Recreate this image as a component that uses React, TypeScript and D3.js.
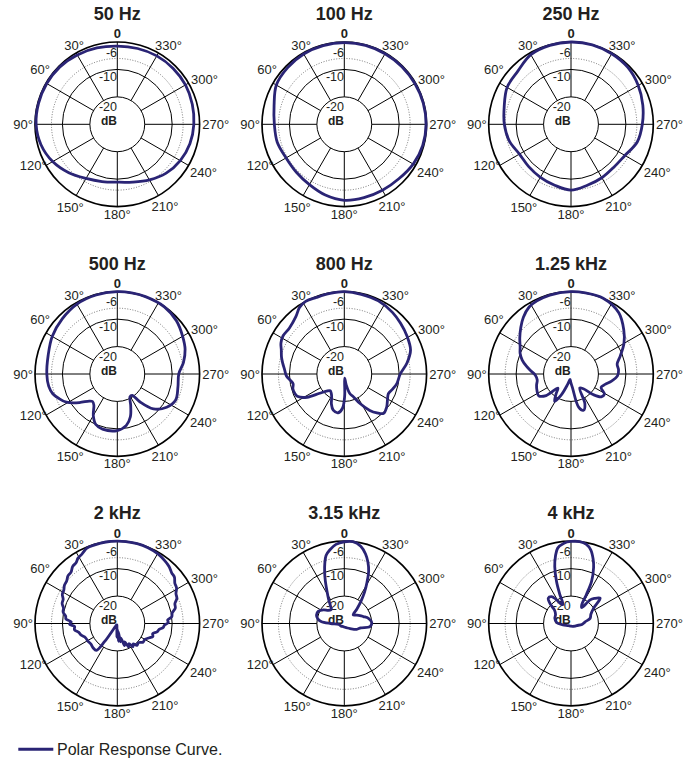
import React, { useEffect, useRef } from "react";
import * as d3 from "d3";

type Pt = [number, number]; // [angle in degrees, counter-clockwise from front; level in dB]

const titles = ["50 Hz", "100 Hz", "250 Hz", "500 Hz", "800 Hz", "1.25 kHz", "2 kHz", "3.15 kHz", "4 kHz"];

const hz50: Pt[] = [
  [0, -1.5], [15, -1.2], [30, -0.8], [45, -0.4], [60, -0.3], [75, -0.3], [90, -0.4], [105, -1.2],
  [120, -2.8], [135, -5], [150, -7.2], [165, -8.4], [180, -8.9], [195, -8.2], [210, -6.6], [225, -4.8],
  [240, -3.5], [255, -2.6], [270, -2.1], [285, -1.7], [300, -1.3], [315, -1.2], [330, -1.2], [345, -1.4],
];

const hz100: Pt[] = [
  [0, -0.2], [15, -0.3], [30, -0.4], [45, -0.8], [60, -1.4], [75, -3.5], [90, -4.5], [105, -4.7],
  [120, -5.5], [135, -5.3], [150, -4.6], [165, -3.3], [180, -2.3], [195, -2.3], [210, -2.2], [225, -1.9],
  [240, -1], [255, -0.4], [270, -0.2], [285, -0.2], [300, -0.3], [315, -0.3], [330, -0.3], [345, -0.2],
];

const hz250: Pt[] = [
  [0, 0], [15, -0.2], [30, -0.7], [45, -2.6], [60, -3.1], [75, -4.8], [90, -5.7], [105, -6.7],
  [120, -8.3], [135, -8.2], [150, -7.7], [165, -7], [180, -6], [195, -7], [210, -7.5], [225, -7.9],
  [240, -7.3], [255, -5], [270, -4], [285, -2.9], [300, -1.7], [315, -0.7], [330, -0.3], [345, 0],
];

const hz500: Pt[] = [
  [0, 0], [15, -0.2], [30, -0.6], [45, -1.6], [60, -2.6], [75, -3.9], [90, -4.3], [100, -4.6],
  [107, -5.4], [113, -7], [119, -8.8], [127, -12.7], [134, -15.8], [138, -16.5], [143, -15.8], [150, -12.5],
  [157, -10], [165, -9.2], [180, -9.4], [190, -11], [197, -13.7], [203, -17.5], [209, -20.5], [215, -20.5],
  [219, -17], [226, -11.7], [236, -8.3], [246, -6.7], [258, -7.4], [270, -7.6], [280, -5.5], [290, -3.7],
  [300, -2.5], [312, -1], [325, -0.1], [340, 0], [350, 0],
];

const hz800: Pt[] = [
  [0, 0], [10, -0.2], [20, -0.3], [28, 0], [34, -0.8], [40, -2.6], [50, -3.9], [58, -3.7],
  [64, -4.3], [69, -5.4], [75, -6.3], [80, -7.2], [86, -8.2], [92, -8.9], [97, -10.3], [101, -11],
  [106, -10.5], [111, -10.6], [116, -11.2], [122, -14], [128, -18.6], [134, -21], [140, -22], [146, -21.5],
  [151, -20.5], [157, -18], [163, -16.2], [171, -15.7], [177, -17.5], [181, -22], [185, -28.5], [190, -26],
  [196, -22.5], [202, -21], [208, -17.8], [215, -13.8], [220, -11.5], [225, -9.7], [232, -10.4], [240, -11.8],
  [246, -12.4], [253, -11.5], [260, -10.5], [270, -9.6], [280, -6.8], [290, -4.3], [301, -3.3], [312, -2.4],
  [322, -1.5], [335, -0.6], [348, -0.3],
];

const hz1250: Pt[] = [
  [0, 0], [15, -0.2], [25, -0.6], [32, -1.2], [40, -3], [47, -5], [55, -7.2], [62, -9],
  [68, -10], [74, -11.5], [80, -13.5], [86, -15.5], [92, -17], [100, -17.5], [108, -16.8], [116, -16.2],
  [124, -15.8], [131, -18], [137, -23], [143, -21], [149, -18.4], [155, -21.5], [162, -26], [170, -28],
  [178, -27], [186, -25], [193, -17.6], [199, -16], [205, -18], [212, -24], [220, -23], [227, -19],
  [233, -16.2], [239, -15.8], [246, -18], [253, -17], [260, -15], [268, -13], [275, -12.6], [282, -12.8],
  [290, -10.9], [300, -7.7], [310, -4.9], [322, -1.7], [337, 0], [350, 0],
];

const hz2000: Pt[] = [
  [0, 0], [8, 0], [16, -0.2], [22, -0.4], [27, -1.6], [31, -2.2], [34, -3.2], [38, -3.6],
  [42, -4.8], [46, -5], [50, -5.9], [54, -6.2], [58, -7], [62, -7.3], [66, -8.4], [70, -8.6],
  [74, -9.6], [78, -9.8], [82, -11], [85, -11.2], [88, -13.2], [91, -12.6], [94, -14.4], [98, -14.2],
  [103, -15.6], [108, -16.2], [114, -17.3], [121, -17.5], [128, -17.8], [135, -17.5], [142, -17.6], [145, -22],
  [148, -29], [160, -29.5], [172, -29], [178, -25], [181, -28], [184, -23.5], [187, -27], [190, -23.2],
  [194, -24.5], [198, -21.5], [202, -22.8], [206, -20.5], [210, -21.5], [214, -19.8], [218, -20.6], [222, -19.3],
  [228, -19.6], [234, -18.4], [240, -18.4], [246, -17.2], [250, -16.2], [254, -16.6], [258, -15.2], [262, -14.6],
  [265, -13.2], [268, -12.8], [271, -11.4], [274, -11.6], [277, -10], [281, -9.6], [285, -8.1], [289, -7.8],
  [293, -6.4], [297, -6], [301, -4.8], [305, -4.4], [309, -3.2], [313, -2.9], [318, -1.9], [323, -1.3],
  [330, -0.6], [338, -0.2], [346, 0], [354, 0],
];

const hz3150: Pt[] = [
  [0, -0.2], [6, -1], [11, -2.6], [15, -4.3], [18, -7], [21, -10], [24, -13], [28, -16.5],
  [33, -19.5], [38, -21.8], [43, -23], [50, -22.5], [57, -20.9], [65, -19.5], [73, -19.4], [80, -20.2],
  [85, -21.5], [90, -25], [100, -28], [130, -28.5], [160, -28.8], [190, -28.6], [215, -28], [229, -27.2],
  [245, -25], [255, -23.8], [263, -20.6], [272, -20], [282, -21], [290, -22.6], [297, -23.6], [306, -24.8],
  [314, -25.5], [319, -23], [323, -20], [327, -16.5], [331, -13], [335, -9], [339, -6], [343, -3.5],
  [348, -1.2], [354, 0],
];

const hz4000: Pt[] = [
  [0, -0.1], [5, -0.6], [10, -2.1], [13, -4.8], [16, -8.5], [19, -13.8], [21, -18.5], [23, -22.5],
  [27, -22], [32, -19.5], [36, -17.9], [42, -17.6], [47, -19.8], [51, -22.3], [60, -23.5], [72, -23.8],
  [86, -24.7], [100, -27], [120, -28.5], [150, -29], [180, -29], [210, -28.8], [235, -28.3], [250, -27.8],
  [265, -26], [277, -24.8], [285, -22.8], [295, -22], [304, -20.1], [311, -15.9], [317, -17.5], [321, -18.9],
  [326, -23], [330, -22.2], [332, -18.1], [334, -12.9], [338, -8], [341, -5.2], [345, -2.2], [349, -0.6],
  [354, 0],
];

const responses = [hz50, hz100, hz250, hz500, hz800, hz1250, hz2000, hz3150, hz4000];

const angleTicks = [0, 30, 60, 90, 120, 150, 180, 210, 240, 270, 300, 330];
const ringTicks = [-6, -10, -20];
const legendLabel = "Polar Response Curve.";

// layout / style
const W = 697;
const H = 762;
const R = 82.3;
const colX = [117.3, 344.3, 571];
const rowY = [124.3, 374, 623.5];
const CURVE = "#2a2475";
const INK = "#231f20";
const FONT = "'Liberation Sans', Arial, Helvetica, sans-serif";

// hand-placed angle label offsets: [anchor, dx, baseline dy] from the spoke end on the rim
const tickPos: Record<number, [string, number, number]> = {
  0: ["middle", 0, -3.7],
  30: ["middle", -2, -3],
  60: ["end", 4, -9],
  90: ["end", -2, 4.7],
  120: ["end", 0.7, 4.5],
  150: ["middle", -6, 16],
  180: ["middle", 0, 12],
  210: ["start", -7, 15.5],
  240: ["start", 1.5, 12],
  270: ["start", 2.7, 4.7],
  300: ["start", 2.5, 1],
  330: ["start", -3.5, -3],
};
// baseline shift of the dB labels relative to their ring
const ringLabelDy: Record<number, number> = { [-6]: -1.8, [-10]: 11.6, [-20]: 14 };

export default function App() {
  const svgRef = useRef<SVGSVGElement>(null);

  useEffect(() => {
    const svg = d3.select(svgRef.current);
    svg.selectAll("*").remove();

    const r = d3.scaleLinear().domain([-30, 0]).range([0, R]).clamp(true);
    const rad = (deg: number) => (deg * Math.PI) / 180;

    // angles run counter-clockwise from the top, d3 runs clockwise
    const line = d3
      .lineRadial<Pt>()
      .angle((d) => -rad(d[0]))
      .radius((d) => r(d[1]))
      .curve(d3.curveCatmullRomClosed.alpha(0.5));

    titles.forEach((title, i) => {
      const cx = colX[i % 3];
      const cy = rowY[Math.floor(i / 3)];
      const g = svg.append("g").attr("transform", `translate(${cx},${cy})`);

      // Title
      g.append("text")
        .attr("y", -104.3)
        .attr("text-anchor", "middle")
        .style("font-family", FONT)
        .style("font-size", "18px")
        .style("font-weight", "bold")
        .attr("fill", INK)
        .text(title);

      // Rings
      g.append("circle")
        .attr("r", r(-6))
        .attr("fill", "none")
        .attr("stroke", "#555")
        .attr("stroke-width", 0.8)
        .attr("stroke-dasharray", "1 1.6");
      [-10, -20].forEach((v) =>
        g.append("circle").attr("r", r(v)).attr("fill", "none").attr("stroke", "#000").attr("stroke-width", 1),
      );

      // Spokes
      g.append("g")
        .selectAll("line")
        .data(angleTicks)
        .join("line")
        .attr("x1", (a) => -Math.sin(rad(a)) * r(-20))
        .attr("y1", (a) => -Math.cos(rad(a)) * r(-20))
        .attr("x2", (a) => -Math.sin(rad(a)) * R)
        .attr("y2", (a) => -Math.cos(rad(a)) * R)
        .attr("stroke", "#000")
        .attr("stroke-width", 1);

      g.append("circle").attr("r", R).attr("fill", "none").attr("stroke", "#000").attr("stroke-width", 1.7);

      // Angle labels
      angleTicks.forEach((a) => {
        const [anchor, dx, dy] = tickPos[a];
        g.append("text")
          .attr("x", -Math.sin(rad(a)) * R + dx)
          .attr("y", -Math.cos(rad(a)) * R + dy)
          .attr("text-anchor", anchor)
          .style("font-family", FONT)
          .style("font-size", "13px")
          .style("font-weight", a === 0 ? "bold" : "normal")
          .attr("fill", INK)
          .text(a === 0 ? "0" : `${a}°`);
      });

      // dB labels
      ringTicks.forEach((v) => {
        g.append("text")
          .attr("x", -0.3)
          .attr("y", -r(v) + ringLabelDy[v])
          .attr("text-anchor", "end")
          .style("font-family", FONT)
          .style("font-size", "12.5px")
          .attr("fill", INK)
          .text(String(v));
      });
      g.append("text")
        .attr("x", -0.3)
        .attr("y", 0.6)
        .attr("text-anchor", "end")
        .style("font-family", FONT)
        .style("font-size", "12px")
        .style("font-weight", "bold")
        .attr("fill", INK)
        .text("dB");

      // Response curve
      g.append("path")
        .datum(responses[i])
        .attr("d", line)
        .attr("fill", "none")
        .attr("stroke", CURVE)
        .attr("stroke-width", 2.8)
        .attr("stroke-linejoin", "round");
    });

    // Legend
    svg.append("line")
      .attr("x1", 18.3)
      .attr("x2", 53.3)
      .attr("y1", 749.3)
      .attr("y2", 749.3)
      .attr("stroke", CURVE)
      .attr("stroke-width", 3);
    svg.append("text")
      .attr("x", 57)
      .attr("y", 754.5)
      .style("font-family", FONT)
      .style("font-size", "16px")
      .attr("fill", INK)
      .text(legendLabel);
  }, []);

  return (
    <svg
      ref={svgRef}
      width={W}
      height={H}
      style={{ position: "absolute", left: 0, top: 0, background: "#fff" }}
    />
  );
}
